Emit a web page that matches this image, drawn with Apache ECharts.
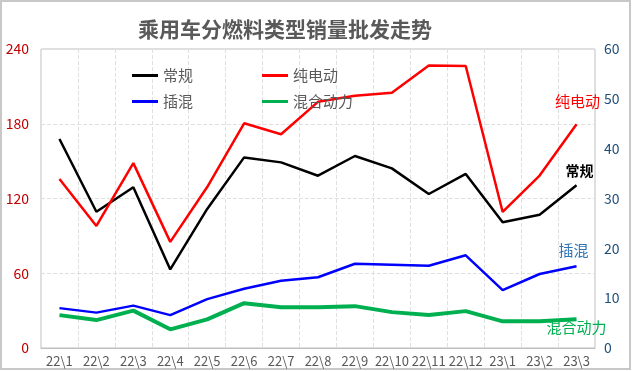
<!DOCTYPE html>
<html><head><meta charset="utf-8">
<script src="https://cdn.jsdelivr.net/npm/echarts@6/dist/echarts.min.js"></script>
<style>html,body{margin:0;padding:0;background:#fff}#c{width:632px;height:371px}</style>
</head><body><div id="c"></div>
<script>
const categories = ["22\\1","22\\2","22\\3","22\\4","22\\5","22\\6","22\\7","22\\8","22\\9","22\\10","22\\11","22\\12","23\\1","23\\2","23\\3"];
const conventional = [167.8,109.4,129,63.1,111.6,153,149,138.3,154.1,144.2,123.6,139.7,100.9,107,130.6];
const bev = [33.9,24.5,37.1,21.3,32.3,45.1,42.9,49.4,50.6,51.2,56.7,56.6,27.3,34.6,44.9];
const phev = [8.0,7.1,8.5,6.6,9.8,11.9,13.5,14.2,16.9,16.7,16.5,18.6,11.6,14.85,16.4];
const hev = [6.6,5.6,7.5,3.75,5.75,9.0,8.2,8.2,8.4,7.2,6.6,7.4,5.35,5.35,5.75];
const leftTicks = {min:0,max:240,interval:60};
const rightTicks = {min:0,max:60,interval:10};

const FONT = '"Noto Sans CJK SC","Noto Sans",sans-serif';
function endMark(arr, label){
  const i = arr.length-1;
  return {symbol:'circle',symbolSize:1,silent:true,itemStyle:{color:'rgba(0,0,0,0)'},
    data:[{coord:[i, arr[i]], label:Object.assign({show:true,fontFamily:FONT}, label)}]};
}
const legendText = {fontSize:15,color:'#595959',fontFamily:FONT};
const chart = echarts.init(document.getElementById('c'));
chart.setOption({
  animation:false,
  textStyle:{fontFamily:FONT},
  title:{text:'乘用车分燃料类型销量批发走势',left:133,top:14,textStyle:{fontSize:21,fontWeight:'bold',color:'#595959',fontFamily:FONT}},
  graphic:[{type:'rect',shape:{x:1,y:1,width:629,height:368},style:{fill:'none',stroke:'#C8C8C8',lineWidth:2},silent:true}],
  legend:[
    {data:['常规','纯电动'],left:127,top:63,icon:'rect',itemWidth:26,itemHeight:3,itemGap:69,textStyle:legendText},
    {data:['插混',{name:'混合动力',itemStyle:{}}],left:127,top:89,icon:'rect',itemWidth:26,itemHeight:3,itemGap:69,textStyle:legendText}
  ],
  grid:{left:41,right:37,top:49,bottom:23,show:true,borderColor:'#BFBFBF',borderWidth:1,backgroundColor:'transparent'},
  xAxis:{type:'category',data:categories,boundaryGap:true,
    axisLine:{show:true,lineStyle:{color:'#BFBFBF'}},axisTick:{show:false},
    axisLabel:{interval:0,fontSize:13,color:'#595959',margin:7,fontFamily:FONT},
    splitLine:{show:true,interval:0,lineStyle:{color:'#E0E0E0',type:'dashed'}}},
  yAxis:[
    {type:'value',min:leftTicks.min,max:leftTicks.max,interval:leftTicks.interval,
      axisLine:{show:false},axisTick:{show:false},
      axisLabel:{fontSize:14,color:'#C00000',margin:12,fontFamily:FONT},
      splitLine:{show:true,lineStyle:{color:'#E0E0E0',type:'dashed'}}},
    {type:'value',min:rightTicks.min,max:rightTicks.max,interval:rightTicks.interval,
      axisLine:{show:false},axisTick:{show:false},
      axisLabel:{fontSize:14,color:'#1F4E79',margin:9,fontFamily:FONT},
      splitLine:{show:false}}
  ],
  series:[
    {name:'常规',type:'line',yAxisIndex:0,symbol:'none',lineStyle:{color:'#000000',width:2.5},itemStyle:{color:'#000000'},data:conventional,
      markPoint:endMark(conventional,{position:'top',distance:7,offset:[3,0],formatter:'常规',fontSize:14,fontWeight:'bold',color:'#000000'})},
    {name:'纯电动',type:'line',yAxisIndex:1,symbol:'none',lineStyle:{color:'#FF0000',width:2.5},itemStyle:{color:'#FF0000'},data:bev,
      markPoint:endMark(bev,{position:'top',distance:15,offset:[1,0],formatter:'纯电动',fontSize:15,color:'#FF0000'})},
    {name:'插混',type:'line',yAxisIndex:1,symbol:'none',lineStyle:{color:'#0000FF',width:2.5},itemStyle:{color:'#0000FF'},data:phev,
      markPoint:endMark(phev,{position:'top',distance:8,offset:[-3,0],formatter:'插混',fontSize:15,color:'#2E75B6'})},
    {name:'混合动力',type:'line',yAxisIndex:1,symbol:'none',lineStyle:{color:'#00B050',width:4},itemStyle:{color:'#00B050'},data:hev,
      markPoint:endMark(hev,{position:'bottom',distance:0,offset:[0,0],formatter:'混合动力',fontSize:15,color:'#00B050'})}
  ]
});
</script></body></html>
